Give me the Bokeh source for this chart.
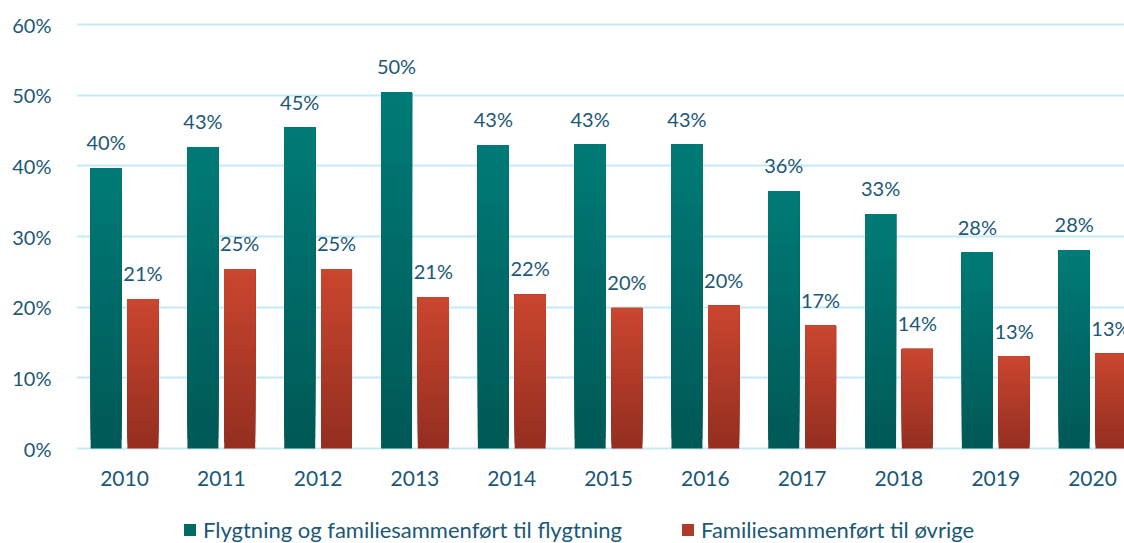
from bokeh.plotting import figure
from bokeh.models import (ColumnDataSource, Legend, LegendItem, FixedTicker,
                          PrintfTickFormatter, Range1d, LabelSet)
from bokeh.core.properties import value
from bokeh.embed import file_html
from bokeh.resources import INLINE

years = ["2010", "2011", "2012", "2013", "2014", "2015", "2016", "2017", "2018", "2019", "2020"]
flyktning = [39.7, 42.6, 45.4, 50.4, 42.9, 43.0, 43.0, 36.4, 33.2, 27.7, 28.1]
ovrige = [21.1, 25.4, 25.4, 21.4, 21.8, 19.9, 20.2, 17.4, 14.1, 13.0, 13.4]
series_names = ["Flygtning og familiesammenført til flygtning", "Familiesammenført til øvrige"]
y_ticks = [0, 10, 20, 30, 40, 50, 60]

TEXT = "#1B5876"
FONT = "Lato"
FS = "20px"
TEAL_TOP, TEAL_BOT = (0, 123, 119), (0, 88, 85)
RED_TOP, RED_BOT = (202, 70, 47), (148, 46, 32)
N = 30
OFF = 0.19
W = 0.32


def mix(a, b, t):
    return "#%02x%02x%02x" % tuple(int(round(a[k] + (b[k] - a[k]) * t)) for k in range(3))


def gradient_source(values, offset, top_c, bot_c):
    # each slice runs from its own bottom up to the bar top; drawn bottom-up so
    # later slices cover the earlier ones (vertical gradient without seams)
    xs, bots, tops, cols = [], [], [], []
    for s in range(N):
        for i, v in enumerate(values):
            xs.append(i + offset)
            bots.append(v * s / N)
            tops.append(v)
            cols.append(mix(bot_c, top_c, (s + 0.5) / N))
    return ColumnDataSource(dict(x=xs, bottom=bots, top=tops, color=cols))


p = figure(width=1124, height=543, output_backend="svg", toolbar_location=None,
           x_axis_location=None,
           x_range=Range1d(-0.496, 10.33), y_range=Range1d(-13.44, 63.4),
           min_border_left=76, min_border_right=0, min_border_top=0, min_border_bottom=0)
p.outline_line_color = None
p.background_fill_color = "white"

src1 = gradient_source(flyktning, -OFF, TEAL_TOP, TEAL_BOT)
src2 = gradient_source(ovrige, OFF, RED_TOP, RED_BOT)
r1 = p.vbar(x="x", bottom="bottom", top="top", width=W, source=src1,
            fill_color="color", line_color=None)
r2 = p.vbar(x="x", bottom="bottom", top="top", width=W, source=src2,
            fill_color="color", line_color=None)

lab1 = ColumnDataSource(dict(x=[i - OFF for i in range(len(years))], y=flyktning,
                             t=["%d%%" % round(v) for v in flyktning]))
lab2 = ColumnDataSource(dict(x=[i + OFF for i in range(len(years))], y=ovrige,
                             t=["%d%%" % round(v) for v in ovrige]))
for s in (lab1, lab2):
    p.add_layout(LabelSet(x="x", y="y", text="t", source=s, text_align="center",
                          text_baseline="alphabetic", y_offset=18,
                          text_font=value(FONT), text_font_size=value(FS),
                          text_color=value(TEXT)))

# category (year) labels under the bar groups
cat_src = ColumnDataSource(dict(x=list(range(len(years))), y=[0] * len(years), t=years))
p.add_layout(LabelSet(x="x", y="y", text="t", source=cat_src, text_align="center",
                      text_baseline="middle", y_offset=-30,
                      text_font=value(FONT), text_font_size=value("21px"),
                      text_color=value(TEXT)))

p.xgrid.grid_line_color = None
p.ygrid.grid_line_color = "#C6E9F8"
p.ygrid.grid_line_width = 2
p.ygrid.ticker = FixedTicker(ticks=y_ticks)

p.yaxis.ticker = FixedTicker(ticks=y_ticks)
p.yaxis.formatter = PrintfTickFormatter(format="%d%%")
p.yaxis.axis_line_color = None
p.yaxis.major_tick_line_color = None
p.yaxis.minor_tick_line_color = None
p.yaxis.major_tick_out = 0
p.yaxis.major_tick_in = 0
p.yaxis.major_label_text_font = FONT
p.yaxis.major_label_text_font_size = FS
p.yaxis.major_label_text_color = TEXT
p.yaxis.major_label_standoff = 25

legend = Legend(items=[LegendItem(label=series_names[0], renderers=[r1], index=N * 11 // 2),
                       LegendItem(label=series_names[1], renderers=[r2], index=N * 11 // 2)],
                orientation="horizontal", location=(106, 0),
                label_text_font=FONT, label_text_font_size="22px", label_text_color=TEXT,
                glyph_width=15, glyph_height=15, label_standoff=6, spacing=58,
                padding=1, margin=0,
                border_line_color=None, background_fill_alpha=0)
p.add_layout(legend)

open("out.html", "w").write(file_html(p, INLINE))
